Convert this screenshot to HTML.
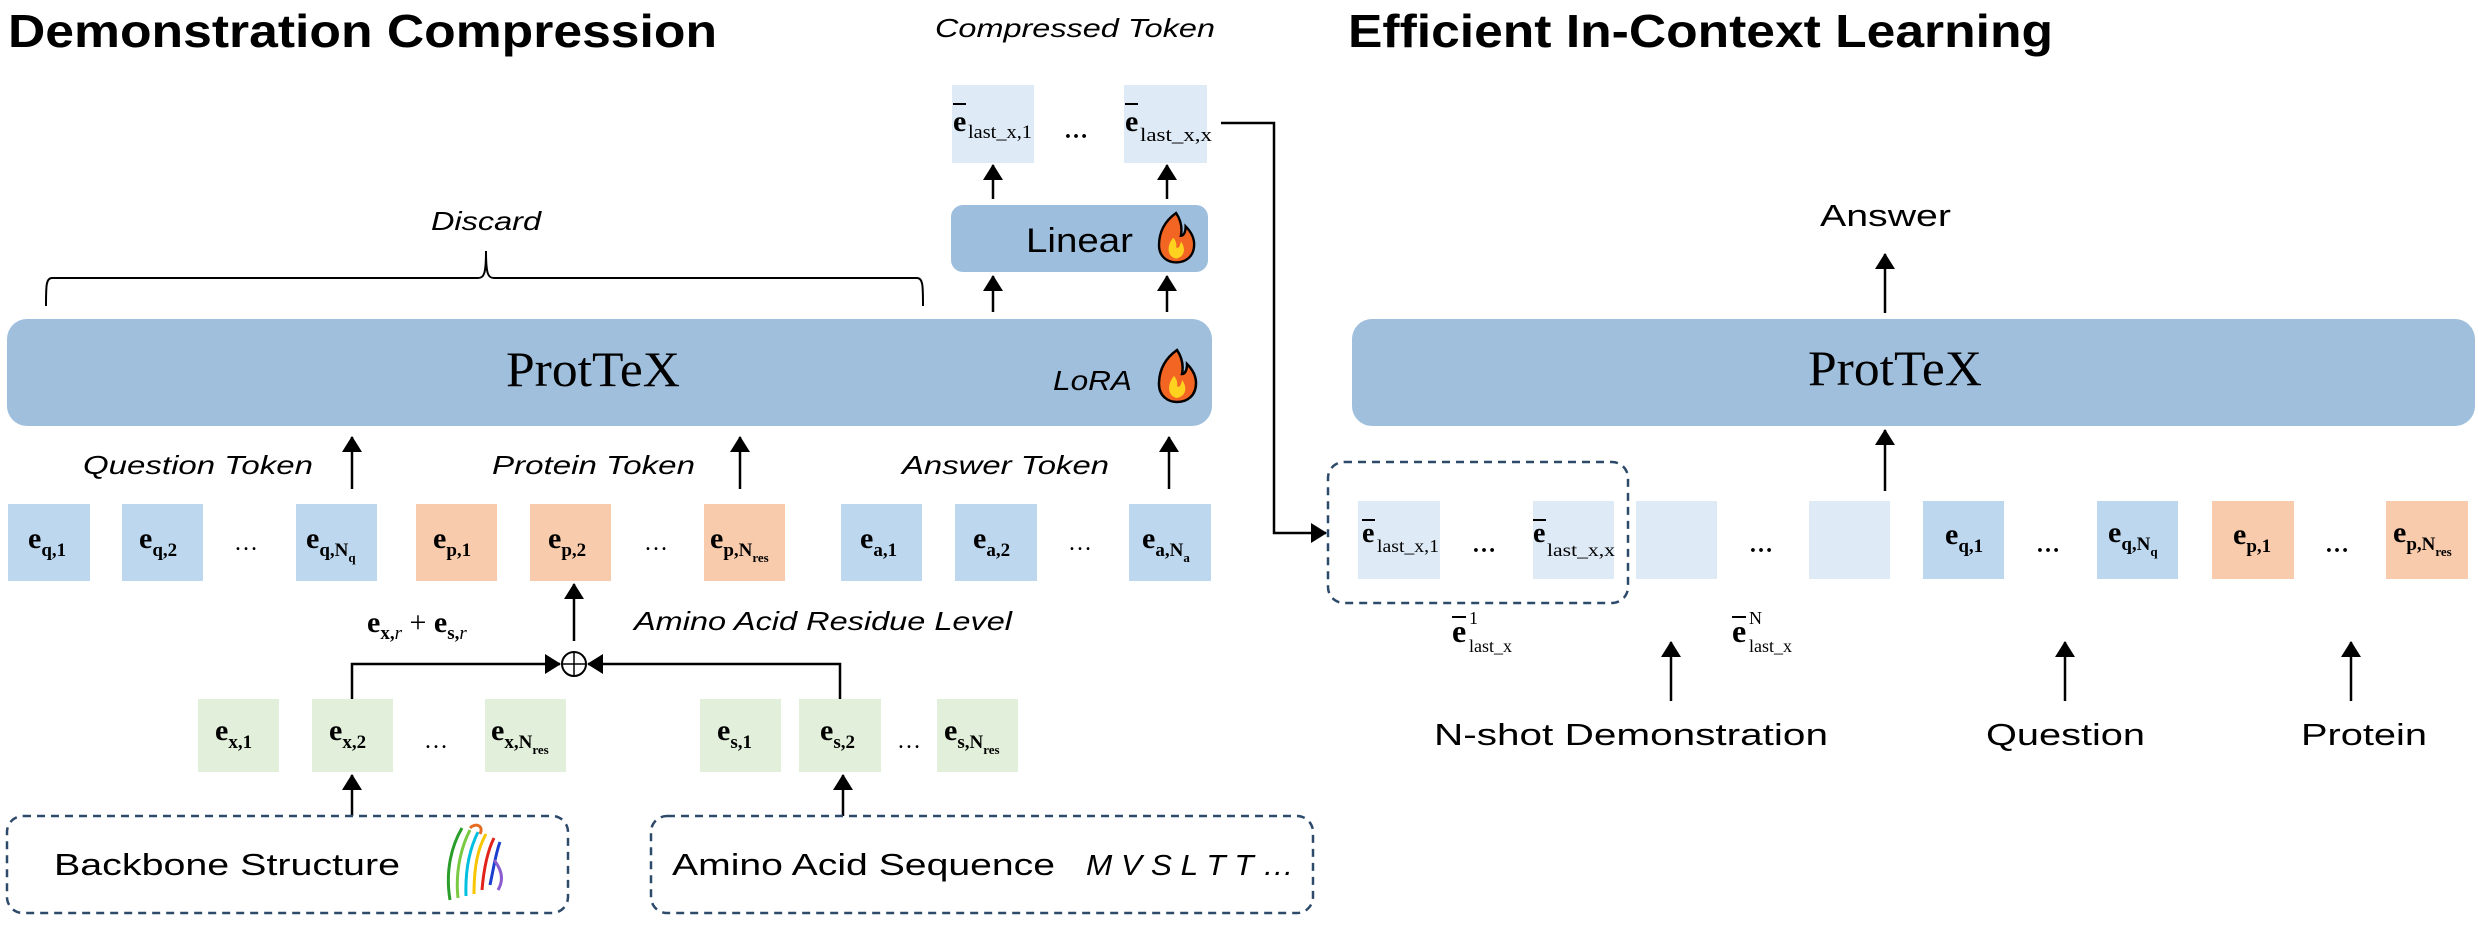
<!DOCTYPE html>
<html><head><meta charset="utf-8"><style>html,body{margin:0;padding:0;background:#fff}svg{display:block}</style></head><body>
<svg width="2478" height="944" viewBox="0 0 2478 944" xmlns="http://www.w3.org/2000/svg">
<defs>
<marker id="ah" markerWidth="10" markerHeight="10" refX="9" refY="5" orient="auto" markerUnits="userSpaceOnUse" viewBox="0 0 10 10">
<path d="M0,0 L10,5 L0,10 z" fill="#000"/></marker>
<marker id="ab" markerWidth="16" markerHeight="20" refX="15" refY="10" orient="auto" markerUnits="userSpaceOnUse" viewBox="0 0 16 20">
<path d="M0,0 L16,10 L0,20 z" fill="#000"/></marker>
<g id="fire">
<path d="M18,0 C4,10 0,22 0,34 C0,46 9,52 18,52 C28,52 37,46 37,33 C37,24 32,18 28,14 C28,22 25,24 23,24 C25,14 22,6 18,0 z" fill="#f26522" stroke="#000" stroke-width="2.5"/>
<path d="M15,26 C8,34 8,46 18,48 C28,46 28,36 23,30 C22,36 20,38 18,36 C19,32 17,28 15,26 z" fill="#ffd21f"/>
</g>
</defs>
<style>
.t{font-family:"Liberation Sans",sans-serif}
.s{font-family:"Liberation Serif",serif}
.e{font-family:"Liberation Serif",serif;font-weight:bold;font-size:30px}
.sub{font-size:19px}
</style>

<!-- Titles -->
<text class="t" x="8" y="47" font-size="46" font-weight="bold" textLength="709" lengthAdjust="spacingAndGlyphs">Demonstration Compression</text>
<text class="t" x="1348" y="47" font-size="46" font-weight="bold" textLength="705" lengthAdjust="spacingAndGlyphs">Efficient In-Context Learning</text>
<text class="t" x="935" y="37" font-size="26" font-style="italic" textLength="280" lengthAdjust="spacingAndGlyphs">Compressed Token</text>

<!-- compressed tokens -->
<rect x="952" y="85" width="82" height="78" fill="#deeaf6"/>
<rect x="1124" y="85" width="83" height="78" fill="#deeaf6"/>
<text class="s" x="953" y="131" font-size="30" font-weight="bold">e</text><line x1="953" y1="104" x2="966" y2="104" stroke="#000" stroke-width="2"/>
<text class="s" x="968" y="138" font-size="19" textLength="64" lengthAdjust="spacingAndGlyphs">last_x,1</text>
<text class="s" x="1125" y="131" font-size="30" font-weight="bold">e</text><line x1="1125" y1="104" x2="1138" y2="104" stroke="#000" stroke-width="2"/>
<text class="s" x="1140" y="141" font-size="19" textLength="72" lengthAdjust="spacingAndGlyphs">last_x,x</text>
<text class="s" x="1064" y="138" font-size="24" font-weight="bold">…</text>

<!-- connector to right side -->
<polyline points="1221,123 1274,123 1274,533 1326,533" fill="none" stroke="#000" stroke-width="2.5" marker-end="url(#ab)"/>

<!-- Linear -->
<rect x="951" y="205" width="257" height="67" rx="12" fill="#9dbedd"/>
<text class="t" x="1026" y="252" font-size="34" textLength="107" lengthAdjust="spacingAndGlyphs">Linear</text>
<use href="#fire" transform="translate(1159,213) scale(0.95)"/>
<line x1="993" y1="199" x2="993" y2="165" stroke="#000" stroke-width="2.5" marker-end="url(#ab)"/>
<line x1="1167" y1="199" x2="1167" y2="165" stroke="#000" stroke-width="2.5" marker-end="url(#ab)"/>
<line x1="993" y1="312" x2="993" y2="276" stroke="#000" stroke-width="2.5" marker-end="url(#ab)"/>
<line x1="1167" y1="312" x2="1167" y2="276" stroke="#000" stroke-width="2.5" marker-end="url(#ab)"/>

<!-- Discard + brace -->
<text class="t" x="431" y="230" font-size="26" font-style="italic" textLength="110" lengthAdjust="spacingAndGlyphs">Discard</text>
<path d="M46,306 C46,286 46,278 52,278 L478,278 C484,278 486,274 486,251 C486,274 488,278 494,278 L917,278 C923,278 923,286 923,306" fill="none" stroke="#000" stroke-width="2"/>

<!-- ProtTeX left -->
<rect x="7" y="319" width="1205" height="107" rx="20" fill="#9fbfdd"/>
<text class="s" x="506" y="386" font-size="50" textLength="174" lengthAdjust="spacingAndGlyphs">ProtTeX</text>
<text class="t" x="1053" y="390" font-size="28" font-style="italic" textLength="79" lengthAdjust="spacingAndGlyphs">LoRA</text>
<use href="#fire" transform="translate(1159,350)"/>

<!-- arrows + labels -->
<line x1="352" y1="489" x2="352" y2="437" stroke="#000" stroke-width="2.5" marker-end="url(#ab)"/>
<line x1="740" y1="489" x2="740" y2="437" stroke="#000" stroke-width="2.5" marker-end="url(#ab)"/>
<line x1="1169" y1="489" x2="1169" y2="437" stroke="#000" stroke-width="2.5" marker-end="url(#ab)"/>
<text class="t" x="83" y="474" font-size="26" font-style="italic" textLength="230" lengthAdjust="spacingAndGlyphs">Question Token</text>
<text class="t" x="492" y="474" font-size="26" font-style="italic" textLength="203" lengthAdjust="spacingAndGlyphs">Protein Token</text>
<text class="t" x="902" y="474" font-size="26" font-style="italic" textLength="207" lengthAdjust="spacingAndGlyphs">Answer Token</text>

<!-- token row left -->
<g>
<rect x="8" y="504" width="82" height="77" fill="#bdd7ee"/>
<rect x="122" y="504" width="81" height="77" fill="#bdd7ee"/>
<rect x="296" y="504" width="81" height="77" fill="#bdd7ee"/>
<rect x="416" y="504" width="81" height="77" fill="#f8cbad"/>
<rect x="530" y="504" width="81" height="77" fill="#f8cbad"/>
<rect x="704" y="504" width="81" height="77" fill="#f8cbad"/>
<rect x="841" y="504" width="81" height="77" fill="#bdd7ee"/>
<rect x="955" y="504" width="82" height="77" fill="#bdd7ee"/>
<rect x="1129" y="504" width="82" height="77" fill="#bdd7ee"/>
</g>
<text class="e" x="28" y="548">e<tspan class="sub" dy="8">q,1</tspan></text>
<text class="e" x="139" y="548">e<tspan class="sub" dy="8">q,2</tspan></text>
<text class="e" x="306" y="548">e<tspan class="sub" dy="8">q,N</tspan><tspan font-size="13" dy="6">q</tspan></text>
<text class="e" x="433" y="548">e<tspan class="sub" dy="8">p,1</tspan></text>
<text class="e" x="548" y="548">e<tspan class="sub" dy="8">p,2</tspan></text>
<text class="e" x="710" y="548">e<tspan class="sub" dy="8">p,N</tspan><tspan font-size="13" dy="6">res</tspan></text>
<text class="e" x="860" y="548">e<tspan class="sub" dy="8">a,1</tspan></text>
<text class="e" x="973" y="548">e<tspan class="sub" dy="8">a,2</tspan></text>
<text class="e" x="1142" y="548">e<tspan class="sub" dy="8">a,N</tspan><tspan font-size="13" dy="6">a</tspan></text>
<text class="s" x="234" y="550" font-size="24">…</text>
<text class="s" x="644" y="550" font-size="24">…</text>
<text class="s" x="1068" y="550" font-size="24">…</text>

<!-- sum -->
<line x1="574" y1="641" x2="574" y2="584" stroke="#000" stroke-width="2.5" marker-end="url(#ab)"/>
<text class="e" x="367" y="632" font-size="28">e<tspan class="sub" dy="7">x,</tspan><tspan class="sub" font-style="italic" font-weight="normal">r</tspan><tspan dy="-7" font-weight="normal"> + </tspan>e<tspan class="sub" dy="7">s,</tspan><tspan class="sub" font-style="italic" font-weight="normal">r</tspan></text>
<text class="t" x="634" y="630" font-size="26" font-style="italic" textLength="378" lengthAdjust="spacingAndGlyphs">Amino Acid Residue Level</text>
<circle cx="574" cy="664" r="12" fill="none" stroke="#000" stroke-width="2"/>
<line x1="562" y1="664" x2="586" y2="664" stroke="#000" stroke-width="1.5"/>
<line x1="574" y1="652" x2="574" y2="676" stroke="#000" stroke-width="1.5"/>
<polyline points="352,699 352,664 560,664" fill="none" stroke="#000" stroke-width="2.5" marker-end="url(#ab)"/>
<polyline points="840,699 840,664 588,664" fill="none" stroke="#000" stroke-width="2.5" marker-end="url(#ab)"/>

<!-- green row -->
<rect x="198" y="699" width="81" height="73" fill="#e2efda"/>
<rect x="312" y="699" width="81" height="73" fill="#e2efda"/>
<rect x="485" y="699" width="81" height="73" fill="#e2efda"/>
<rect x="700" y="699" width="81" height="73" fill="#e2efda"/>
<rect x="799" y="699" width="82" height="73" fill="#e2efda"/>
<rect x="937" y="699" width="81" height="73" fill="#e2efda"/>
<text class="e" x="215" y="740">e<tspan class="sub" dy="8">x,1</tspan></text>
<text class="e" x="329" y="740">e<tspan class="sub" dy="8">x,2</tspan></text>
<text class="e" x="491" y="740">e<tspan class="sub" dy="8">x,N</tspan><tspan font-size="13" dy="6">res</tspan></text>
<text class="e" x="717" y="740">e<tspan class="sub" dy="8">s,1</tspan></text>
<text class="e" x="820" y="740">e<tspan class="sub" dy="8">s,2</tspan></text>
<text class="e" x="944" y="740">e<tspan class="sub" dy="8">s,N</tspan><tspan font-size="13" dy="6">res</tspan></text>
<text class="s" x="424" y="748" font-size="24">…</text>
<text class="s" x="897" y="748" font-size="24">…</text>
<line x1="352" y1="816" x2="352" y2="775" stroke="#000" stroke-width="2.5" marker-end="url(#ab)"/>
<line x1="843" y1="816" x2="843" y2="775" stroke="#000" stroke-width="2.5" marker-end="url(#ab)"/>

<!-- dashed input boxes -->
<rect x="7" y="816" width="561" height="97" rx="16" fill="none" stroke="#2e4a6b" stroke-width="2.5" stroke-dasharray="8,6"/>
<rect x="651" y="816" width="662" height="97" rx="16" fill="none" stroke="#2e4a6b" stroke-width="2.5" stroke-dasharray="8,6"/>
<text class="t" x="54" y="875" font-size="31" textLength="346" lengthAdjust="spacingAndGlyphs">Backbone Structure</text>
<g stroke-width="3" fill="none">
<path d="M450,900 C445,870 452,845 462,828" stroke="#2a9d2a"/>
<path d="M458,898 C455,870 462,845 470,830" stroke="#7ac943"/>
<path d="M466,896 C465,868 470,848 478,832" stroke="#00c0e0"/>
<path d="M474,894 C474,866 478,848 486,834" stroke="#f7c600"/>
<path d="M482,890 C484,866 488,850 494,838" stroke="#e2231a"/>
<path d="M490,885 C494,866 496,852 500,842" stroke="#1a3fcf"/>
<path d="M470,828 C476,822 484,826 480,834" stroke="#e46b1f"/>
<path d="M494,860 C502,870 504,880 498,890" stroke="#8a5cd0"/>
</g>
<text class="t" x="672" y="875" font-size="31" textLength="383" lengthAdjust="spacingAndGlyphs">Amino Acid Sequence</text>
<text class="t" x="1086" y="875" font-size="29" font-style="italic" textLength="208" lengthAdjust="spacingAndGlyphs">M V S L T T …</text>

<!-- RIGHT PANEL -->
<text class="t" x="1820" y="226" font-size="31" textLength="131" lengthAdjust="spacingAndGlyphs">Answer</text>
<line x1="1885" y1="313" x2="1885" y2="254" stroke="#000" stroke-width="2.5" marker-end="url(#ab)"/>
<rect x="1352" y="319" width="1123" height="107" rx="20" fill="#9fbfdd"/>
<text class="s" x="1808" y="385" font-size="50" textLength="174" lengthAdjust="spacingAndGlyphs">ProtTeX</text>
<line x1="1885" y1="491" x2="1885" y2="430" stroke="#000" stroke-width="2.5" marker-end="url(#ab)"/>

<rect x="1358" y="501" width="82" height="78" fill="#deeaf6"/>
<rect x="1533" y="501" width="81" height="78" fill="#deeaf6"/>
<rect x="1636" y="501" width="81" height="78" fill="#deeaf6"/>
<rect x="1809" y="501" width="81" height="78" fill="#deeaf6"/>
<rect x="1923" y="501" width="81" height="78" fill="#bdd7ee"/>
<rect x="2097" y="501" width="81" height="78" fill="#bdd7ee"/>
<rect x="2212" y="501" width="82" height="78" fill="#f8cbad"/>
<rect x="2386" y="501" width="82" height="78" fill="#f8cbad"/>
<rect x="1328" y="462" width="300" height="141" rx="16" fill="none" stroke="#2e4a6b" stroke-width="2.5" stroke-dasharray="8,6"/>

<text class="s" x="1362" y="542" font-size="28" font-weight="bold">e</text><line x1="1362" y1="520" x2="1375" y2="520" stroke="#000" stroke-width="2"/>
<text class="s" x="1377" y="552" font-size="18" textLength="62" lengthAdjust="spacingAndGlyphs">last_x,1</text>
<text class="s" x="1533" y="542" font-size="28" font-weight="bold">e</text><line x1="1533" y1="520" x2="1546" y2="520" stroke="#000" stroke-width="2"/>
<text class="s" x="1547" y="556" font-size="18" textLength="68" lengthAdjust="spacingAndGlyphs">last_x,x</text>
<text class="s" x="1472" y="552" font-size="24" font-weight="bold">…</text>
<text class="s" x="1749" y="552" font-size="24" font-weight="bold">…</text>
<text class="e" x="1945" y="544">e<tspan class="sub" dy="8">q,1</tspan></text>
<text class="e" x="2108" y="542">e<tspan class="sub" dy="8">q,N</tspan><tspan font-size="13" dy="6">q</tspan></text>
<text class="e" x="2233" y="544">e<tspan class="sub" dy="8">p,1</tspan></text>
<text class="e" x="2393" y="542">e<tspan class="sub" dy="8">p,N</tspan><tspan font-size="13" dy="6">res</tspan></text>
<text class="s" x="2036" y="552" font-size="24" font-weight="bold">…</text>
<text class="s" x="2325" y="552" font-size="24" font-weight="bold">…</text>

<text class="s" x="1452" y="642" font-size="32" font-weight="bold">e</text><line x1="1452" y1="617" x2="1466" y2="617" stroke="#000" stroke-width="2"/>
<text class="s" x="1469" y="624" font-size="18">1</text>
<text class="s" x="1469" y="652" font-size="18">last_x</text>
<text class="s" x="1732" y="642" font-size="32" font-weight="bold">e</text><line x1="1732" y1="617" x2="1746" y2="617" stroke="#000" stroke-width="2"/>
<text class="s" x="1749" y="624" font-size="18">N</text>
<text class="s" x="1749" y="652" font-size="18">last_x</text>

<line x1="1671" y1="701" x2="1671" y2="642" stroke="#000" stroke-width="2.5" marker-end="url(#ab)"/>
<line x1="2065" y1="701" x2="2065" y2="642" stroke="#000" stroke-width="2.5" marker-end="url(#ab)"/>
<line x1="2351" y1="701" x2="2351" y2="642" stroke="#000" stroke-width="2.5" marker-end="url(#ab)"/>
<text class="t" x="1434" y="745" font-size="31" textLength="394" lengthAdjust="spacingAndGlyphs">N-shot Demonstration</text>
<text class="t" x="1986" y="745" font-size="31" textLength="159" lengthAdjust="spacingAndGlyphs">Question</text>
<text class="t" x="2301" y="745" font-size="31" textLength="126" lengthAdjust="spacingAndGlyphs">Protein</text>
</svg>
</body></html>
